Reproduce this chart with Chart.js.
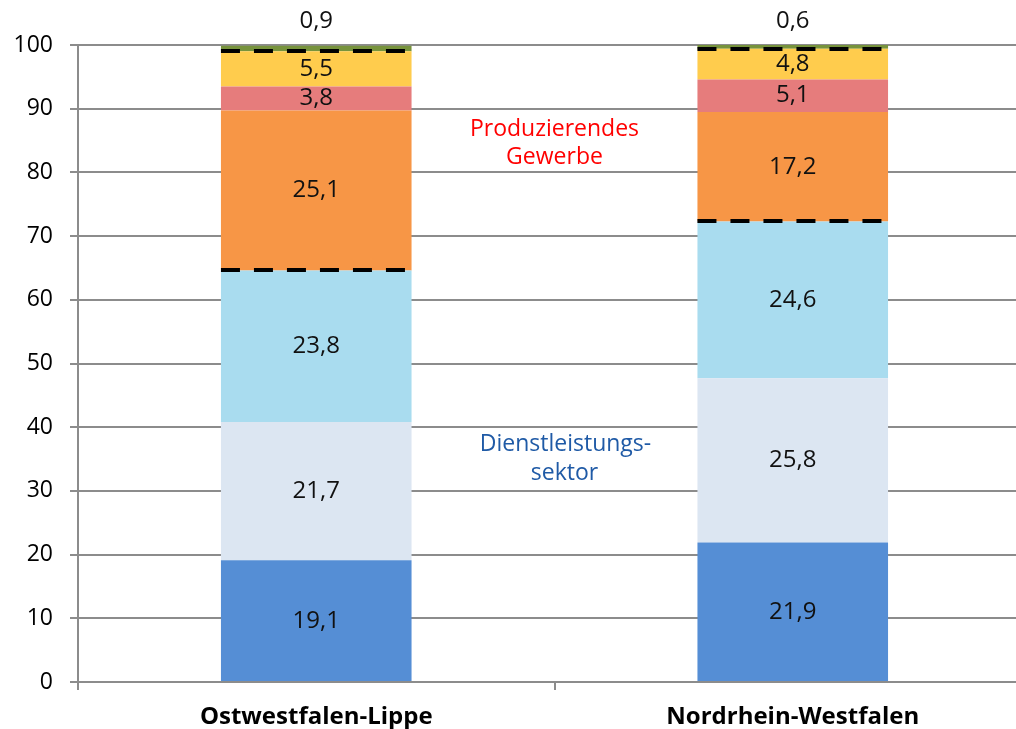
<!DOCTYPE html>
<html>
<head>
<meta charset="utf-8">
<script src="https://cdn.jsdelivr.net/npm/chart.js@4.4.1/dist/chart.umd.min.js"></script>
<style>
  html, body { margin: 0; padding: 0; background: #fff; overflow: hidden; }
  #wrap { width: 1031px; height: 729px; }
</style>
</head>
<body>
<div id="wrap"><canvas id="chart"></canvas></div>
<script>
const categories = ['Ostwestfalen-Lippe', 'Nordrhein-Westfalen'];

// segments from bottom to top
const seg1 = [19.1, 21.9];
const seg2 = [21.7, 25.8];
const seg3 = [23.8, 24.6];
const seg4 = [25.1, 17.2];
const seg5 = [3.8, 5.1];
const seg6 = [5.5, 4.8];
const seg7 = [0.9, 0.6];

const segColors = ['#558ed5', '#dce6f2', '#a9dcef', '#f79646', '#e67c7c', '#ffcc4d', '#77933c'];
const yTicks = [0, 10, 20, 30, 40, 50, 60, 70, 80, 90, 100];

const fmt = v => v.toFixed(1).replace('.', ',');
const FONT = '"Open Sans", "DejaVu Sans", sans-serif';

const segments = [seg1, seg2, seg3, seg4, seg5, seg6, seg7];

// labels, dashed borders and annotations
const overlay = {
  id: 'overlay',
  afterDatasetsDraw(chart) {
    const ctx = chart.ctx;
    const y = chart.scales.y;
    const x = chart.scales.x;
    ctx.save();
    ctx.font = '24px ' + FONT;
    ctx.fillStyle = '#111';
    ctx.textAlign = 'center';
    ctx.textBaseline = 'middle';
    chart.data.datasets.forEach((ds, di) => {
      const meta = chart.getDatasetMeta(di);
      meta.data.forEach((bar, i) => {
        let bottom = 0;
        for (let k = 0; k < di; k++) bottom += segments[k][i];
        const v = ds.data[i];
        let cy;
        if (di === segments.length - 1) cy = 21;
        else cy = y.getPixelForValue(bottom + v / 2);
        ctx.fillText(fmt(v), bar.x, cy);
      });
    });
    // dashed lines: boundary services/industry and below the top segment
    ctx.strokeStyle = '#000';
    ctx.lineWidth = 4;
    ctx.setLineDash([19, 14]);
    const meta0 = chart.getDatasetMeta(0);
    meta0.data.forEach((bar, i) => {
      const b1 = seg1[i] + seg2[i] + seg3[i];
      const b2 = b1 + seg4[i] + seg5[i] + seg6[i];
      [b1, b2].forEach(v => {
        const py = Math.round(y.getPixelForValue(v));
        ctx.beginPath();
        ctx.moveTo(bar.x - bar.width / 2, py);
        ctx.lineTo(bar.x + bar.width / 2, py);
        ctx.stroke();
      });
    });
    ctx.setLineDash([]);
    // annotations
    const mx = (x.getPixelForValue(0) + x.getPixelForValue(1)) / 2;
    ctx.font = '23px ' + FONT;
    ctx.fillStyle = '#ff0000';
    ctx.fillText('Produzierendes', mx, y.getPixelForValue(86.8));
    ctx.fillText('Gewerbe', mx, y.getPixelForValue(82.3));
    ctx.fillStyle = '#1f5aa6';
    ctx.fillText('Dienstleistungs-', mx + 11, y.getPixelForValue(37.3));
    ctx.fillText('sektor', mx + 10, y.getPixelForValue(32.8));
    ctx.restore();
  }
};

new Chart(document.getElementById('chart'), {
  type: 'bar',
  data: {
    labels: categories,
    datasets: segments.map((s, i) => ({
      data: s,
      backgroundColor: segColors[i],
      borderWidth: 0,
      categoryPercentage: 1,
      barPercentage: 0.4
    }))
  },
  options: {
    responsive: true,
    maintainAspectRatio: false,
    animation: false,
    layout: { padding: { top: 45, right: 0, left: 0, bottom: 0 } },
    plugins: { legend: { display: false }, tooltip: { enabled: false } },
    scales: {
      x: {
        stacked: true,
        offset: true,
        afterFit(scale) { scale.height = 47; },
        grid: { display: true, drawOnChartArea: false, offset: true, color: '#8c8c8c', lineWidth: 2, tickLength: 8 },
        border: { color: '#8c8c8c', width: 2 },
        ticks: { color: '#000', font: { family: FONT, size: 24, weight: 'bold' }, padding: 13 }
      },
      y: {
        stacked: true,
        min: 0,
        max: 100,
        afterFit(scale) { scale.width = 78; },
        afterBuildTicks(scale) { scale.ticks = yTicks.map(v => ({ value: v })); },
        grid: { color: '#8c8c8c', lineWidth: 2, tickLength: 8 },
        border: { color: '#8c8c8c', width: 2 },
        ticks: { color: '#000', font: { family: FONT, size: 23 }, padding: 17 }
      }
    }
  },
  plugins: [overlay]
});
</script>
</body>
</html>
